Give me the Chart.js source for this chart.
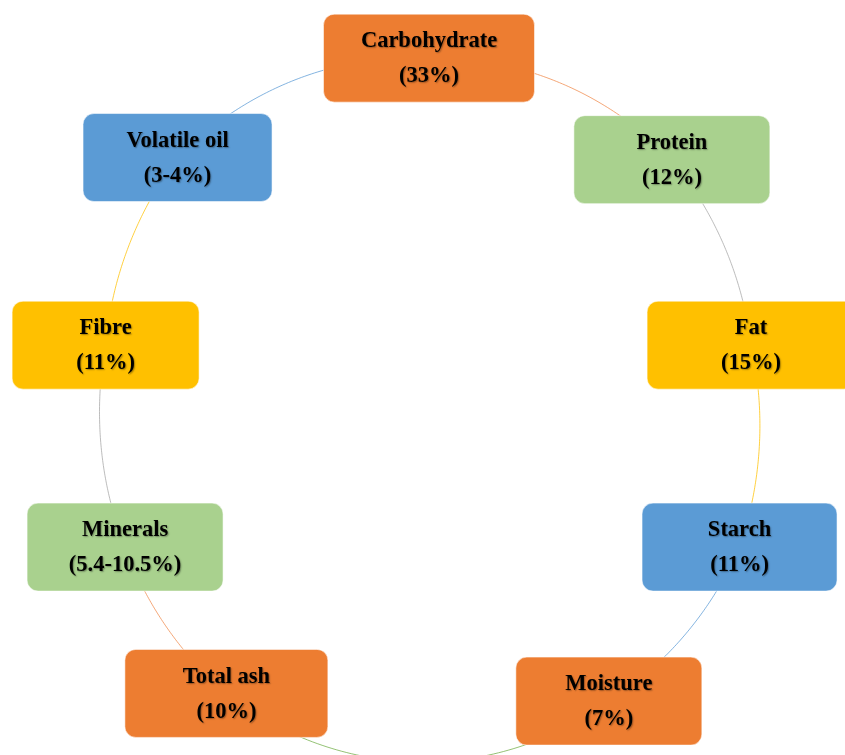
<!DOCTYPE html>
<html>
<head>
<meta charset="utf-8">
<script src="https://cdn.jsdelivr.net/npm/chart.js@4/dist/chart.umd.min.js"></script>
<style>
  html, body { margin: 0; padding: 0; background: #ffffff; }
  #wrap { width: 845px; height: 755px; position: relative; }
</style>
</head>
<body>
<div id="wrap"><canvas id="c" width="845" height="755"></canvas></div>
<script>
// ---- data ----
const categories  = ['Carbohydrate', 'Protein', 'Fat', 'Starch', 'Moisture', 'Total ash', 'Minerals', 'Fibre', 'Volatile oil'];
const valueLabels = ['33%', '12%', '15%', '11%', '7%', '10%', '5.4-10.5%', '11%', '3-4%'];

// ---- layout (unit-circle coordinates around the cycle centre) ----
const posU = [0.000, 0.736, 0.976, 0.941, 0.545, -0.614, -0.921, -0.980, -0.762];
const posV = [-1.011, -0.721, -0.191, 0.386, 0.826, 0.804, 0.386, -0.191, -0.727];
const boxWidth = [211, 196, 208, 195, 186, 203, 196, 187, 189];
const boxHeight = 88;

// ---- styles ----
const ORANGE = '#ED7D31', GREEN = '#A9D18E', YELLOW = '#FFC000', BLUE = '#5B9BD5';
const boxColor = [ORANGE, GREEN, YELLOW, BLUE, ORANGE, ORANGE, GREEN, YELLOW, BLUE];
const linkColor = ['#F08A4B', '#A5A5A5', '#FFC000', '#5B9BD5', '#70AD47', '#F08A4B', '#A5A5A5', '#FFC000', '#5B9BD5'];

function polar(i) {
  const u = posU[i], v = posV[i];
  return { r: Math.hypot(u, v), a: Math.atan2(u, -v) };
}

const cyclePlugin = {
  id: 'cycle',
  beforeDatasetsDraw(chart) {
    const ctx = chart.ctx, xs = chart.scales.x, ys = chart.scales.y;
    const n = categories.length;
    ctx.save();
    ctx.lineWidth = 1;
    ctx.globalAlpha = 0.75;
    for (let i = 0; i < n; i++) {
      const p = polar(i), q = polar((i + 1) % n);
      let a0 = p.a, a1 = q.a;
      while (a1 <= a0) a1 += Math.PI * 2;
      ctx.beginPath();
      const steps = 80;
      for (let s = 0; s <= steps; s++) {
        const t = s / steps;
        const a = a0 + (a1 - a0) * t;
        const r = p.r + (q.r - p.r) * t;
        const px = xs.getPixelForValue(r * Math.sin(a));
        const py = ys.getPixelForValue(-r * Math.cos(a));
        if (s === 0) ctx.moveTo(px, py); else ctx.lineTo(px, py);
      }
      ctx.strokeStyle = linkColor[i];
      ctx.stroke();
    }
    ctx.restore();
  },
  afterDatasetsDraw(chart) {
    const ctx = chart.ctx;
    const meta = chart.getDatasetMeta(0);
    meta.data.forEach((pt, i) => {
      const cx = pt.x, cy = pt.y;
      const w = boxWidth[i], h = boxHeight;
      ctx.save();
      ctx.beginPath();
      ctx.roundRect(cx - w / 2, cy - h / 2, w, h, 11);
      ctx.fillStyle = boxColor[i];
      ctx.fill();
      ctx.lineWidth = 1;
      ctx.strokeStyle = 'rgba(255,255,255,0.55)';
      ctx.stroke();
      ctx.restore();

      ctx.save();
      ctx.translate(cx, cy);
      ctx.scale(1, 1.06);
      ctx.font = 'bold 22.5px "Liberation Serif", "Times New Roman", serif';
      ctx.textAlign = 'center';
      ctx.textBaseline = 'middle';
      ctx.fillStyle = '#000000';
      ctx.shadowColor = 'rgba(0,0,0,0.35)';
      ctx.shadowOffsetX = 1;
      ctx.shadowOffsetY = 1;
      ctx.shadowBlur = 1.5;
      ctx.fillText(categories[i], 0, -17 / 1.06);
      ctx.fillText('(' + valueLabels[i] + ')', 0, 18 / 1.06);
      ctx.restore();
    });
  }
};

new Chart(document.getElementById('c'), {
  type: 'scatter',
  data: {
    labels: categories,
    datasets: [{
      data: posU.map((u, i) => ({ x: u, y: posV[i] })),
      pointRadius: 0,
      pointHoverRadius: 0,
      showLine: false
    }]
  },
  options: {
    responsive: false,
    animation: false,
    layout: { padding: 0 },
    plugins: { legend: { display: false }, tooltip: { enabled: false } },
    scales: {
      x: { type: 'linear', min: -1.3, max: 1.2606, display: false },
      y: { type: 'linear', min: -1.1771, max: 0.98, reverse: true, display: false }
    }
  },
  plugins: [cyclePlugin]
});
</script>
</body>
</html>
